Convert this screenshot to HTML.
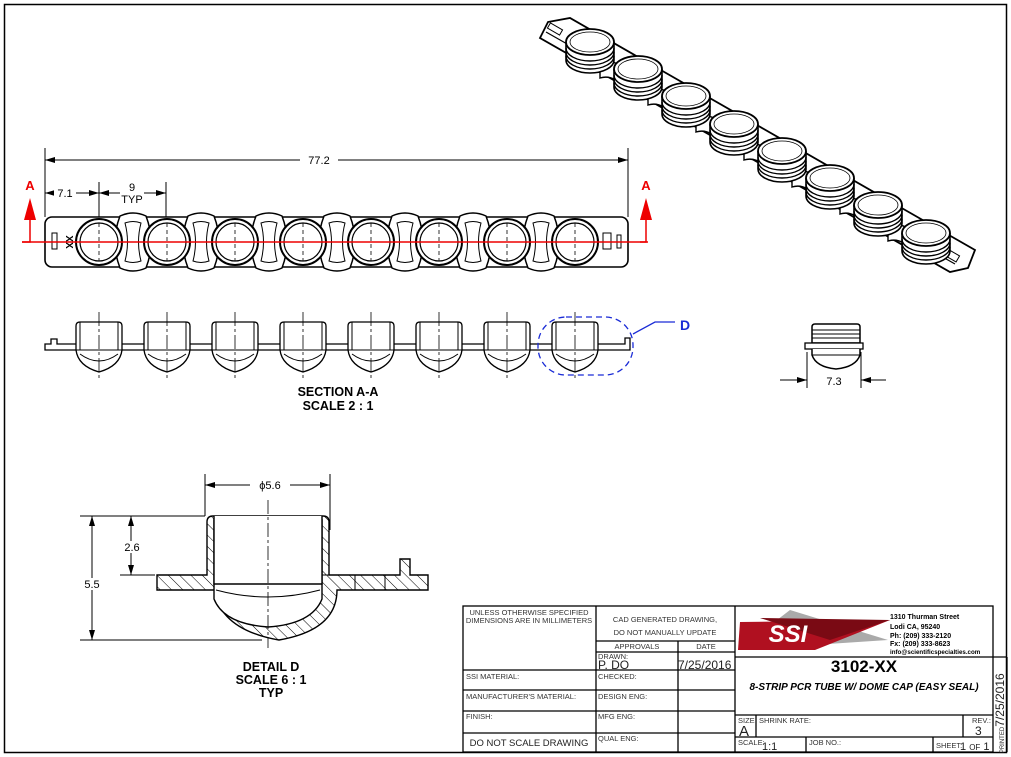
<!DOCTYPE html>
<html><head><meta charset="utf-8"><style>
html,body{margin:0;padding:0;background:#fff}
svg{display:block}
text{font-family:"Liberation Sans",Arial,sans-serif}
</style></head><body>
<svg width="1011" height="757" viewBox="0 0 1011 757" xmlns="http://www.w3.org/2000/svg">
<defs>
<pattern id="hatch" width="8" height="8" patternUnits="userSpaceOnUse" patternTransform="rotate(-45)"><line x1="0" y1="0" x2="0" y2="8" stroke="#000" stroke-width="1"/></pattern>
<g id="isotube">
<path d="M-24,0 v18 a24,13 0 0 0 48,0 v-18" fill="#fff" stroke="#000" stroke-width="1.6"/>
<path d="M-24,6 a24,13 0 0 0 48,0 M-24,10 a24,13 0 0 0 48,0 M-24,14 a24,13 0 0 0 48,0" fill="none" stroke="#000" stroke-width="1.4"/>
<ellipse cx="0" cy="0" rx="24" ry="13" fill="#fff" stroke="#000" stroke-width="1.8"/>
<ellipse cx="0" cy="0" rx="20" ry="10" fill="none" stroke="#000" stroke-width="0.8"/>
</g>
<g id="sect">
<path d="M-23,-18 q0,-4 4,-4 h38 q4,0 4,4 v24 q-2,16 -23,22 q-21,-6 -23,-22z" fill="#fff" stroke="#000" stroke-width="1.3"/>
<line x1="-19" y1="-22" x2="-19" y2="6" stroke="#000"/><line x1="19" y1="-22" x2="19" y2="6" stroke="#000"/>
<line x1="-23" y1="6" x2="23" y2="6" stroke="#000"/>
<path d="M-19,10 q19,14 38,0" fill="none" stroke="#000"/>
<line x1="0" y1="-32" x2="0" y2="34" stroke="#000" stroke-width="0.8" stroke-dasharray="14,3,3,3"/>
</g>
<g id="conn" stroke="#000" stroke-width="1.5" fill="#fff"><path d="M-13,-26 q13,-6 26,0 q10,26 0,52 q-13,6 -26,0 q-10,-26 0,-52z"/><path d="M-8,-19 q8,-3 16,0 q-5,19 0,38 q-8,3 -16,0 q5,-19 0,-38z" stroke-width="1"/></g>
<g id="tc" stroke="#000" fill="#fff"><circle r="23" stroke-width="2"/><circle r="19" stroke-width="1.2"/><line x1="0" y1="-19" x2="0" y2="19" stroke-dasharray="4,3" stroke-width="0.8"/></g>
</defs>
<rect x="4.5" y="4.5" width="1002" height="748" fill="none" stroke="#000" stroke-width="1.5"/>

<!-- isometric strip -->
<path d="M548,22 L570,18 L975,250 L968,268 L950,272 L540,38 Z" fill="#fff" stroke="#000" stroke-width="1.8"/>
<path d="M546,32 L955,264" stroke="#000" stroke-width="1.2"/>
<g fill="#fff" stroke="#000" stroke-width="1.4">
<path d="M600,62 q20,-4 35,18 l-10,8 q-12,-14 -25,-10z"/><path d="M648,89 q20,-4 35,18 l-10,8 q-12,-14 -25,-10z"/>
<path d="M696,116 q20,-4 35,18 l-10,8 q-12,-14 -25,-10z"/><path d="M744,144 q20,-4 35,18 l-10,8 q-12,-14 -25,-10z"/>
<path d="M792,171 q20,-4 35,18 l-10,8 q-12,-14 -25,-10z"/><path d="M840,198 q20,-4 35,18 l-10,8 q-12,-14 -25,-10z"/>
<path d="M888,225 q20,-4 35,18 l-10,8 q-12,-14 -25,-10z"/>
</g>
<rect x="548" y="26" width="14" height="6" transform="rotate(30 555 29)" fill="none" stroke="#000"/>
<rect x="945" y="252" width="14" height="7" transform="rotate(30 952 255)" fill="none" stroke="#000"/>
<g>
<use href="#isotube" x="590" y="42"/><use href="#isotube" x="638" y="69"/><use href="#isotube" x="686" y="96"/><use href="#isotube" x="734" y="124"/>
<use href="#isotube" x="782" y="151"/><use href="#isotube" x="830" y="178"/><use href="#isotube" x="878" y="205"/><use href="#isotube" x="926" y="233"/>
</g>

<!-- top view -->
<line x1="45" y1="148" x2="45" y2="217" stroke="#000"/><line x1="628" y1="148" x2="628" y2="217" stroke="#000"/>
<path d="M55,157 L45,160 L55,163z"/><path d="M618,157 L628,160 L618,163z"/>
<line x1="45" y1="160" x2="300" y2="160" stroke="#000"/><line x1="338" y1="160" x2="628" y2="160" stroke="#000"/>
<text x="319" y="164" font-size="11" text-anchor="middle">77.2</text>
<line x1="99" y1="182" x2="99" y2="262" stroke="#000"/><line x1="166" y1="182" x2="166" y2="262" stroke="#000"/>
<line x1="45" y1="193" x2="99" y2="193" stroke="#000"/><path d="M55,190 L45,193 L55,196z"/><path d="M89,190 L99,193 L89,196z"/>
<rect x="54" y="187" width="22" height="12" fill="#fff"/><text x="65" y="197" font-size="11" text-anchor="middle">7.1</text>
<line x1="99" y1="193" x2="166" y2="193" stroke="#000"/><path d="M109,190 L99,193 L109,196z"/><path d="M156,190 L166,193 L156,196z"/>
<rect x="120" y="181" width="24" height="24" fill="#fff"/>
<text x="132" y="191" font-size="11" text-anchor="middle">9</text><text x="132" y="203" font-size="11" text-anchor="middle">TYP</text>

<rect x="45" y="217" width="583" height="50" rx="7" stroke="#000" stroke-width="1.6" fill="#fff"/>
<use href="#conn" x="133" y="242"/><use href="#conn" x="201" y="242"/><use href="#conn" x="269" y="242"/><use href="#conn" x="337" y="242"/>
<use href="#conn" x="405" y="242"/><use href="#conn" x="473" y="242"/><use href="#conn" x="541" y="242"/>
<use href="#tc" x="99" y="242"/><use href="#tc" x="167" y="242"/><use href="#tc" x="235" y="242"/><use href="#tc" x="303" y="242"/>
<use href="#tc" x="371" y="242"/><use href="#tc" x="439" y="242"/><use href="#tc" x="507" y="242"/><use href="#tc" x="575" y="242"/>
<rect x="52" y="233" width="5" height="16" fill="none" stroke="#000"/>
<text x="66" y="242" font-size="10" font-weight="bold" transform="rotate(90 66 242)" text-anchor="middle">XX</text>
<rect x="603" y="233" width="8" height="16" fill="none" stroke="#000"/><rect x="617" y="235" width="4" height="13" fill="none" stroke="#000"/>
<line x1="22" y1="242" x2="648" y2="242" stroke="#e00" stroke-width="1.5"/>
<polyline points="22,242 30,242 30,218" fill="none" stroke="#e00" stroke-width="1.5"/>
<path d="M24,220 L30,198 L36,220z" fill="#e00"/>
<text x="30" y="190" font-size="13" font-weight="bold" fill="#e00" text-anchor="middle">A</text>
<polyline points="640,242 646,242 646,218" fill="none" stroke="#e00" stroke-width="1.5"/>
<path d="M640,220 L646,198 L652,220z" fill="#e00"/>
<text x="646" y="190" font-size="13" font-weight="bold" fill="#e00" text-anchor="middle">A</text>

<!-- section A-A -->
<path d="M45,344 h6 v-5 h6 v5 h568 v-6 h5 v6 v6 h-585z" fill="#fff" stroke="#000" stroke-width="1.3"/>
<use href="#sect" x="99" y="344"/><use href="#sect" x="167" y="344"/><use href="#sect" x="235" y="344"/><use href="#sect" x="303" y="344"/>
<use href="#sect" x="371" y="344"/><use href="#sect" x="439" y="344"/><use href="#sect" x="507" y="344"/><use href="#sect" x="575" y="344"/>
<rect x="538" y="317" width="95" height="58" rx="28" fill="none" stroke="#1a2bd6" stroke-width="1.3" stroke-dasharray="6,4"/>
<path d="M633,334 L655,322 L675,322" fill="none" stroke="#1a2bd6" stroke-width="1.3"/>
<text x="680" y="330" font-size="14" font-weight="bold" fill="#1a2bd6">D</text>
<text x="338" y="396" font-size="12.5" font-weight="bold" text-anchor="middle">SECTION A-A</text>
<text x="338" y="410" font-size="12.5" font-weight="bold" text-anchor="middle">SCALE 2 : 1</text>

<!-- side view -->
<path d="M812,327 q0,-3 3,-3 h42 q3,0 3,3 v16 h-48z" fill="#fff" stroke="#000" stroke-width="1.5"/>
<line x1="812" y1="330" x2="860" y2="330" stroke="#000"/><line x1="812" y1="334" x2="860" y2="334" stroke="#000"/><line x1="812" y1="338" x2="860" y2="338" stroke="#000"/>
<rect x="805" y="343" width="58" height="6" fill="#fff" stroke="#000" stroke-width="1.3"/>
<path d="M812,349 v6 q4,12 24,14 q20,-2 24,-14 v-6" fill="#fff" stroke="#000" stroke-width="1.5"/>
<line x1="812" y1="355" x2="860" y2="355" stroke="#000"/>
<line x1="807" y1="352" x2="807" y2="388" stroke="#000"/><line x1="861" y1="352" x2="861" y2="388" stroke="#000"/>
<line x1="780" y1="380" x2="807" y2="380" stroke="#000"/><path d="M797,377 L807,380 L797,383z"/>
<line x1="861" y1="380" x2="886" y2="380" stroke="#000"/><path d="M871,377 L861,380 L871,383z"/>
<text x="834" y="385" font-size="11" text-anchor="middle">7.3</text>

<!-- detail D -->
<line x1="205" y1="474" x2="205" y2="516" stroke="#000"/><line x1="330" y1="474" x2="330" y2="530" stroke="#000"/>
<line x1="205" y1="485" x2="250" y2="485" stroke="#000"/><line x1="290" y1="485" x2="330" y2="485" stroke="#000"/>
<path d="M215,482 L205,485 L215,488z"/><path d="M320,482 L330,485 L320,488z"/>
<text x="270" y="489" font-size="11" text-anchor="middle">ϕ5.6</text>
<path d="M157,575 H207 V522 q0,-6 6,-6 H323 q6,0 6,6 V575 H400 v-16 h10 v16 h18 v15 H337 q0,40 -58,50 q-58,-10 -65,-50 H157z" fill="url(#hatch)" stroke="#000" stroke-width="1.4"/>
<path d="M214,520 H322 V599 q-10,25 -54,28 q-44,-3 -54,-28z" fill="#fff" stroke="#000" stroke-width="1.4"/>
<path d="M214,516 V584 H322 V516" fill="#fff" stroke="#000" stroke-width="1.4"/>
<path d="M216,590 q52,14 104,0" fill="none" stroke="#000"/>
<path d="M322,575 H337 M385,575 v15 M355,575 v15" stroke="#000" fill="none"/>
<line x1="268" y1="500" x2="268" y2="648" stroke="#000" stroke-dasharray="14,3,3,3" stroke-width="0.8"/>
<line x1="80" y1="516" x2="205" y2="516" stroke="#000"/><line x1="120" y1="575" x2="155" y2="575" stroke="#000"/><line x1="80" y1="640" x2="262" y2="640" stroke="#000"/>
<line x1="131" y1="516" x2="131" y2="575" stroke="#000"/><path d="M128,526 L131,516 L134,526z"/><path d="M128,565 L131,575 L134,565z"/>
<rect x="122" y="541" width="20" height="12" fill="#fff"/><text x="132" y="551" font-size="11" text-anchor="middle">2.6</text>
<line x1="92" y1="516" x2="92" y2="640" stroke="#000"/><path d="M89,526 L92,516 L95,526z"/><path d="M89,630 L92,640 L95,630z"/>
<rect x="82" y="578" width="20" height="12" fill="#fff"/><text x="92" y="588" font-size="11" text-anchor="middle">5.5</text>
<text x="271" y="671" font-size="12.5" font-weight="bold" text-anchor="middle">DETAIL D</text>
<text x="271" y="684" font-size="12.5" font-weight="bold" text-anchor="middle">SCALE 6 : 1</text>
<text x="271" y="697" font-size="12.5" font-weight="bold" text-anchor="middle">TYP</text>

<!-- title block -->
<g stroke="#000" fill="none" stroke-width="1.3">
<rect x="463" y="606" width="530" height="146"/>
<line x1="596" y1="606" x2="596" y2="752"/><line x1="678" y1="641" x2="678" y2="752"/><line x1="735" y1="606" x2="735" y2="752"/>
<line x1="596" y1="641" x2="735" y2="641"/><line x1="596" y1="652" x2="735" y2="652"/>
<line x1="463" y1="670" x2="735" y2="670"/><line x1="463" y1="690" x2="735" y2="690"/><line x1="463" y1="711" x2="735" y2="711"/><line x1="463" y1="733" x2="735" y2="733"/>
<line x1="735" y1="657" x2="1007" y2="657"/><line x1="735" y1="715" x2="993" y2="715"/><line x1="735" y1="737" x2="993" y2="737"/>
<line x1="756" y1="715" x2="756" y2="737"/><line x1="963" y1="715" x2="963" y2="737"/><line x1="806" y1="737" x2="806" y2="752"/><line x1="933" y1="737" x2="933" y2="752"/>
<line x1="1007" y1="657" x2="1007" y2="752"/>
</g>
<g font-size="7.5" fill="#333">
<text x="529" y="615" text-anchor="middle">UNLESS OTHERWISE SPECIFIED</text>
<text x="529" y="623" text-anchor="middle">DIMENSIONS ARE IN MILLIMETERS</text>
<text x="665" y="622" text-anchor="middle">CAD GENERATED DRAWING,</text>
<text x="665" y="635" text-anchor="middle">DO NOT MANUALLY UPDATE</text>
<text x="637" y="649" text-anchor="middle">APPROVALS</text><text x="706" y="649" text-anchor="middle">DATE</text>
<text x="598" y="659">DRAWN:</text><text x="466" y="679">SSI MATERIAL:</text><text x="598" y="679">CHECKED:</text>
<text x="466" y="699">MANUFACTURER'S MATERIAL:</text><text x="598" y="699">DESIGN ENG:</text>
<text x="466" y="719">FINISH:</text><text x="598" y="719">MFG ENG:</text><text x="598" y="741">QUAL ENG:</text>
<text x="738" y="723">SIZE:</text><text x="759" y="723">SHRINK RATE:</text><text x="972" y="723">REV.:</text>
<text x="738" y="745">SCALE:</text><text x="809" y="745">JOB NO.:</text><text x="936" y="748">SHEET:</text>
</g>
<text x="529" y="746" font-size="9.5" fill="#222" text-anchor="middle">DO NOT SCALE DRAWING</text>
<text x="598" y="669" font-size="12" fill="#222">P. DO</text>
<text x="678" y="669" font-size="12" fill="#222">7/25/2016</text>
<text x="739" y="736" font-size="15" fill="#222">A</text><text x="975" y="735" font-size="12" fill="#222">3</text>
<text x="762" y="750" font-size="11" fill="#222">1:1</text><text x="960" y="750" font-size="11" fill="#222">1 <tspan font-size="8">OF</tspan> 1</text>
<text x="1004" y="700" font-size="12" fill="#222" transform="rotate(-90 1004 700)" text-anchor="middle">7/25/2016</text>
<text x="1004" y="740" font-size="6" fill="#222" transform="rotate(-90 1004 740)" text-anchor="middle">PRINTED</text>
<path d="M738,650 L790,610 L888,640 Z" fill="#aaa"/>
<path d="M740,622 L890,620 L815,650 L738,650z" fill="#b01020"/>
<path d="M760,618 L890,620 L830,640z" fill="#7a0a14"/>
<text x="788" y="642" font-size="24" font-weight="bold" font-style="italic" fill="#fff" text-anchor="middle">SSI</text>
<g font-size="7" font-weight="bold" fill="#000">
<text x="890" y="619">1310 Thurman Street</text><text x="890" y="629">Lodi CA, 95240</text>
<text x="890" y="638">Ph: (209) 333-2120</text><text x="890" y="646">Fx:  (209) 333-8623</text>
<text x="890" y="654" font-size="6.2">info@scientificspecialties.com</text>
</g>
<text x="864" y="672" font-size="17" font-weight="bold" text-anchor="middle">3102-XX</text>
<text x="864" y="690" font-size="10" font-weight="bold" font-style="italic" text-anchor="middle">8-STRIP PCR TUBE W/ DOME CAP (EASY SEAL)</text>
</svg>
</body></html>
